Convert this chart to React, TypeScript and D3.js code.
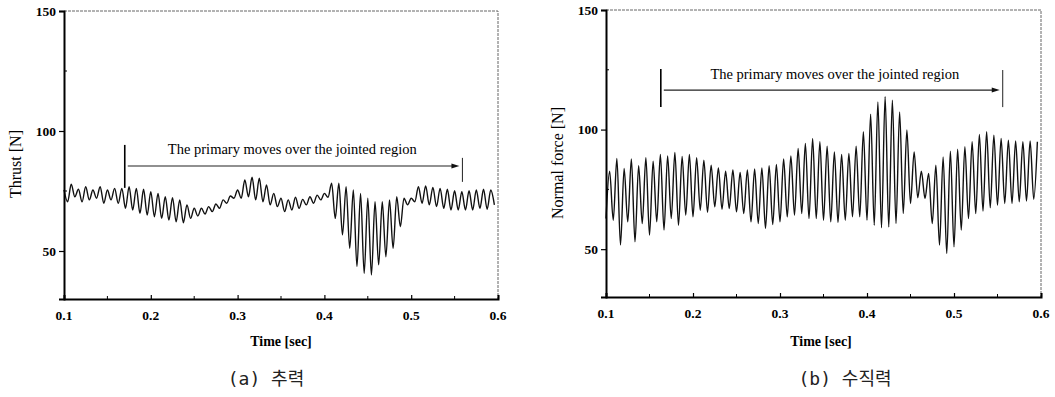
import React, { useEffect, useRef } from 'react';
import * as d3 from 'd3';

// extrema of the recorded signals, one peak and one trough per cycle (120 Hz)
const startTime = 0.1;
const cycle = 1 / 120;

const timeTicks = [0.1, 0.2, 0.3, 0.4, 0.5, 0.6];
const forceTicks = [50, 100, 150];
const timeDomain = [0.1, 0.6];
const forceDomain = [30, 150];

const thrustPeaks = [
  75.5, 77.8, 75.7, 76.8, 75.4, 76.8, 75.4, 76.1, 76.1, 76.8,
  76.1, 75.7, 74.7, 74.0, 72.6, 72.2, 71.3, 69.2, 67.8, 67.8,
  68.5, 69.6, 71.3, 72.9, 75.4, 79.6, 80.7, 80.3, 77.5, 74.0,
  72.0, 71.3, 72.4, 71.5, 72.6, 73.3, 74.0, 78.2, 78.2, 76.8,
  75.4, 74.0, 72.0, 70.5, 70.5, 71.3, 72.6, 72.0, 72.0, 76.8,
  77.1, 76.5, 76.1, 75.7, 75.1, 74.7, 75.1, 75.4, 75.7, 75.4,
];
const thrustTroughs = [
  70.5, 72.6, 70.5, 71.3, 72.0, 69.9, 71.3, 69.9, 67.8, 67.1,
  65.7, 65.0, 64.3, 63.6, 62.9, 62.2, 61.8, 63.6, 64.6, 65.4,
  66.4, 67.8, 69.9, 72.0, 72.0, 72.6, 71.3, 70.5, 69.2, 68.5,
  66.4, 67.1, 67.8, 69.2, 69.9, 71.3, 72.4, 63.6, 56.7, 51.1,
  43.5, 40.7, 40.0, 44.2, 47.6, 51.1, 60.1, 69.2, 70.5, 69.9,
  69.2, 68.5, 67.8, 67.1, 67.1, 67.1, 67.1, 67.8, 67.4, 69.2,
];

const normalPeaks = [
  82.6, 87.9, 83.7, 87.7, 84.9, 88.2, 86.8, 89.6, 89.0, 90.4,
  88.8, 89.6, 88.2, 87.2, 85.1, 84.0, 82.6, 83.1, 82.1, 83.1,
  83.5, 84.0, 84.9, 85.4, 87.7, 89.0, 92.1, 94.2, 96.3, 94.9,
  93.1, 90.7, 89.6, 90.0, 93.1, 99.1, 106.4, 111.6, 113.7, 112.3,
  107.4, 99.8, 90.7, 82.6, 81.7, 85.1, 88.6, 91.0, 91.8, 92.8,
  94.9, 98.0, 99.1, 97.7, 96.3, 95.6, 95.2, 94.9, 95.2, 94.9,
];
const normalTroughs = [
  62.8, 62.1, 51.7, 61.4, 53.1, 60.7, 55.9, 61.4, 58.0, 62.8,
  60.0, 64.2, 63.5, 66.3, 65.4, 67.7, 66.7, 67.0, 65.6, 64.9,
  61.4, 60.7, 58.7, 60.3, 61.4, 63.5, 64.2, 64.9, 62.8, 62.8,
  62.1, 61.4, 61.2, 62.1, 63.5, 63.5, 62.1, 60.0, 58.9, 59.3,
  60.7, 64.9, 69.1, 71.5, 71.2, 60.7, 51.7, 48.2, 51.0, 58.0,
  62.8, 64.9, 65.9, 67.3, 68.4, 69.1, 69.1, 69.8, 70.1, 70.9,
];

const noteText = 'The primary moves over the jointed region';

const serif = '"Liberation Serif", "Times New Roman", serif';
const capFont = '"DejaVu Sans Mono", "Noto Sans CJK KR", monospace';

const panels = [
  {
    peaks: thrustPeaks,
    troughs: thrustTroughs,
    peakFirst: true,
    yLabel: 'Thrust [N]',
    caption: '(a) 추력',
    box: { x0: 64, x1: 498, y0: 299, y1: 11 },
    yLabelAt: [15, 164],
    xLabelAt: [281, 346],
    captionAt: [266, 385],
    note: { from: 0.17, to: 0.559, arrow: 85.4, leftBar: [94.2, 76.3], rightBar: [88.8, 78.8], textT: 0.363, textV: 90.4 },
  },
  {
    peaks: normalPeaks,
    troughs: normalTroughs,
    peakFirst: false,
    yLabel: 'Normal force [N]',
    caption: '(b) 수직력',
    box: { x0: 606, x1: 1041, y0: 297, y1: 10 },
    yLabelAt: [557, 163],
    xLabelAt: [821, 346],
    captionAt: [845, 385],
    note: { from: 0.163, to: 0.556, arrow: 116.5, leftBar: [125.3, 109.4], rightBar: [124.9, 109.4], textT: 0.363, textV: 121.1 },
  },
];

const App = () => {
  const svgRef = useRef(null);

  useEffect(() => {
    const svg = d3.select(svgRef.current);
    svg.selectAll('*').remove();

    panels.forEach((p) => {
      const g = svg.append('g');
      const x = d3.scaleLinear().domain(timeDomain).range([p.box.x0, p.box.x1]);
      const y = d3.scaleLinear().domain(forceDomain).range([p.box.y0, p.box.y1]);

      // interleave peaks and troughs into one trace
      const pts = [];
      p.peaks.forEach((pk, i) => {
        const tr = p.troughs[i];
        if (p.peakFirst) {
          pts.push({ t: startTime + i * cycle, v: pk });
          pts.push({ t: startTime + (i + 0.5) * cycle, v: tr });
        } else {
          pts.push({ t: startTime + i * cycle, v: tr });
          pts.push({ t: startTime + (i + 0.5) * cycle, v: pk });
        }
      });

      const line = d3.line()
        .x(d => x(d.t))
        .y(d => y(d.v))
        .curve(d3.curveMonotoneX);

      g.append('path')
        .datum(pts)
        .attr('d', line)
        .attr('fill', 'none')
        .attr('stroke', '#111')
        .attr('stroke-width', 1.4);

      // thin top / right frame
      g.append('path')
        .attr('d', `M${p.box.x0},${p.box.y1}H${p.box.x1}V${p.box.y0}`)
        .attr('fill', 'none')
        .attr('stroke', '#666')
        .attr('stroke-width', 1)
        .attr('stroke-dasharray', '3,1');

      // bottom axis
      const xAxis = g.append('g').attr('transform', `translate(0,${p.box.y0})`);
      xAxis.call(d3.axisBottom(x).tickValues(timeTicks).tickSize(-4).tickFormat(() => ''))
        .call(a => a.select('.domain').attr('stroke-width', 2).attr('stroke', '#000'));
      xAxis.selectAll('.tick line').attr('stroke-width', 1.2);
      const xMinor = d3.range(0, timeTicks.length - 1).map(i => (timeTicks[i] + timeTicks[i + 1]) / 2);
      xAxis.selectAll('.minor').data(xMinor).enter().append('line')
        .attr('x1', d => x(d)).attr('x2', d => x(d))
        .attr('y1', 0).attr('y2', -3)
        .attr('stroke', '#000');
      xAxis.selectAll('.lbl').data(timeTicks).enter().append('text')
        .attr('x', d => x(d))
        .attr('y', 21)
        .attr('text-anchor', 'middle')
        .attr('fill', '#000')
        .style('font-family', serif)
        .style('font-size', '13.5px')
        .style('font-weight', 'bold')
        .text(d => d3.format('.1f')(d));

      // left axis
      const yAxis = g.append('g').attr('transform', `translate(${p.box.x0},0)`);
      yAxis.call(d3.axisLeft(y).tickValues(forceTicks).tickSize(5).tickFormat(() => ''))
        .call(a => a.select('.domain').attr('stroke-width', 2).attr('stroke', '#000'));
      yAxis.selectAll('.tick line').attr('stroke-width', 1.2);
      const yMinor = d3.range(0, forceTicks.length - 1).map(i => (forceTicks[i] + forceTicks[i + 1]) / 2);
      yAxis.selectAll('.minor').data(yMinor).enter().append('line')
        .attr('x1', 0).attr('x2', 3)
        .attr('y1', d => y(d)).attr('y2', d => y(d))
        .attr('stroke', '#000');
      yAxis.selectAll('.lbl').data(forceTicks).enter().append('text')
        .attr('x', -8)
        .attr('y', d => y(d))
        .attr('dy', '0.36em')
        .attr('text-anchor', 'end')
        .attr('fill', '#000')
        .style('font-family', serif)
        .style('font-size', '13.5px')
        .style('font-weight', 'bold')
        .text(d => d);

      // axis titles
      g.append('text')
        .attr('x', p.xLabelAt[0])
        .attr('y', p.xLabelAt[1])
        .attr('text-anchor', 'middle')
        .style('font-family', serif)
        .style('font-size', '14px')
        .style('font-weight', 'bold')
        .text('Time [sec]');

      g.append('text')
        .attr('transform', `translate(${p.yLabelAt[0]},${p.yLabelAt[1]}) rotate(-90)`)
        .attr('dy', '0.35em')
        .attr('text-anchor', 'middle')
        .style('font-family', serif)
        .style('font-size', '16px')
        .text(p.yLabel);

      // annotation: bars + arrow + text
      const n = p.note;
      g.append('line')
        .attr('x1', x(n.from)).attr('x2', x(n.from))
        .attr('y1', y(n.leftBar[0])).attr('y2', y(n.leftBar[1]))
        .attr('stroke', '#000').attr('stroke-width', 1.6);
      g.append('line')
        .attr('x1', x(n.to)).attr('x2', x(n.to))
        .attr('y1', y(n.rightBar[0])).attr('y2', y(n.rightBar[1]))
        .attr('stroke', '#222').attr('stroke-width', 1);
      const ax0 = x(n.from) + 3;
      const ax1 = x(n.to) - 3;
      const ay = y(n.arrow);
      g.append('line')
        .attr('x1', ax0).attr('x2', ax1 - 5)
        .attr('y1', ay).attr('y2', ay)
        .attr('stroke', '#222').attr('stroke-width', 1.1);
      g.append('path')
        .attr('d', `M${ax1},${ay}L${ax1 - 8},${ay - 2.5}L${ax1 - 8},${ay + 2.5}Z`)
        .attr('fill', '#111');
      g.append('text')
        .attr('x', x(n.textT))
        .attr('y', y(n.textV))
        .attr('text-anchor', 'middle')
        .style('font-family', serif)
        .style('font-size', '14.5px')
        .text(noteText);

      // caption
      g.append('text')
        .attr('x', p.captionAt[0])
        .attr('y', p.captionAt[1])
        .attr('text-anchor', 'middle')
        .style('font-family', capFont)
        .style('font-size', '18px')
        .attr('fill', '#222')
        .text(p.caption);
    });
  }, []);

  return (
    <svg
      ref={svgRef}
      width={1055}
      height={397}
      style={{ position: 'absolute', left: 0, top: 0, backgroundColor: 'white' }}
    ></svg>
  );
};

export default App;
